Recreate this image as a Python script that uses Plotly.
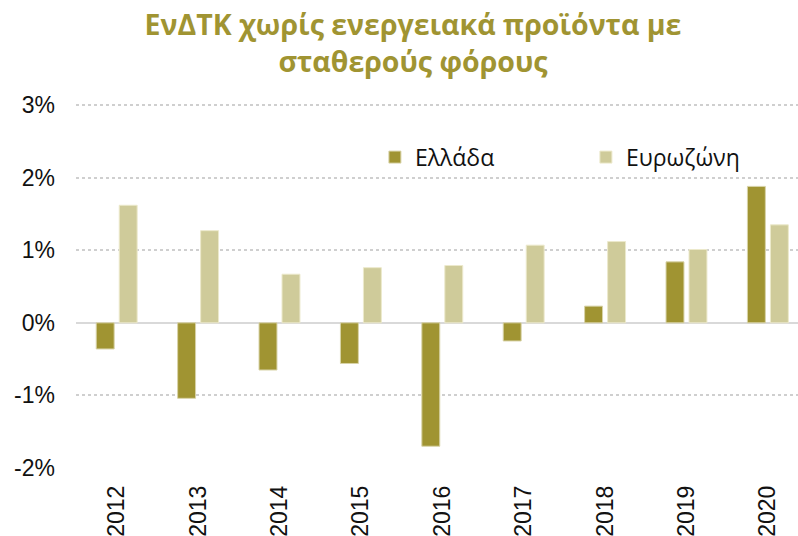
import plotly.graph_objects as go

# Data (% y/y)
years = ['2012', '2013', '2014', '2015', '2016', '2017', '2018', '2019', '2020']
greece = [-0.36, -1.04, -0.65, -0.56, -1.70, -0.25, 0.23, 0.84, 1.88]
eurozone = [1.62, 1.27, 0.67, 0.76, 0.79, 1.07, 1.12, 1.01, 1.35]
y_ticks = [-2, -1, 0, 1, 2, 3]
y_labels = ['-2%', '-1%', '0%', '1%', '2%', '3%']

title_text = 'ΕνΔΤΚ χωρίς ενεργειακά προϊόντα με<br>σταθερούς φόρους'

olive = '#A09432'
light_olive = '#CFCB9A'

fig = go.Figure()
fig.add_trace(go.Bar(x=years, y=greece, name='Ελλάδα',
                     marker=dict(color=olive, line=dict(color='#d8d3a8', width=1))))
fig.add_trace(go.Bar(x=years, y=eurozone, name='Ευρωζώνη',
                     marker=dict(color=light_olive, line=dict(color='#ece9cc', width=1))))

fig.update_layout(
    width=798, height=536,
    margin=dict(l=76, r=0, t=104, b=68),
    paper_bgcolor='white', plot_bgcolor='white',
    barmode='group', bargap=0.435, bargroupgap=0.22,
    title=dict(text=title_text, x=0.5175, xref='container', xanchor='center',
               y=0.934, yref='container', yanchor='middle',
               font=dict(family='Open Sans', size=28.5, color=olive, weight='bold')),
    legend=dict(orientation='h', x=0.414, xanchor='left', y=0.854, yanchor='middle',
                entrywidth=166, font=dict(family='Open Sans', size=23, color='#111111'),
                bgcolor='rgba(0,0,0,0)'),
    showlegend=True,
)

fig.update_xaxes(
    type='category', range=[-0.5, 8.37], automargin=False,
    tickangle=-90, ticklabelstandoff=12,
    tickfont=dict(family='Liberation Sans', size=23, color='#111111'),
    showgrid=False, showline=False, ticks='',
)
fig.update_yaxes(
    range=[-2, 3.015], tickmode='array', tickvals=y_ticks, ticktext=y_labels,
    automargin=False, ticklabelstandoff=20,
    tickfont=dict(family='Liberation Sans', size=23, color='#111111'),
    showgrid=True, gridcolor='#cfcfcf', griddash='dot', gridwidth=1.5,
    zeroline=True, zerolinecolor='#d9d9d9', zerolinewidth=2,
)

# drop the default page margin so the figure fills the window exactly
fig.write_html("out.html", config={'displayModeBar': False},
               post_script="document.body.style.margin='0';")
